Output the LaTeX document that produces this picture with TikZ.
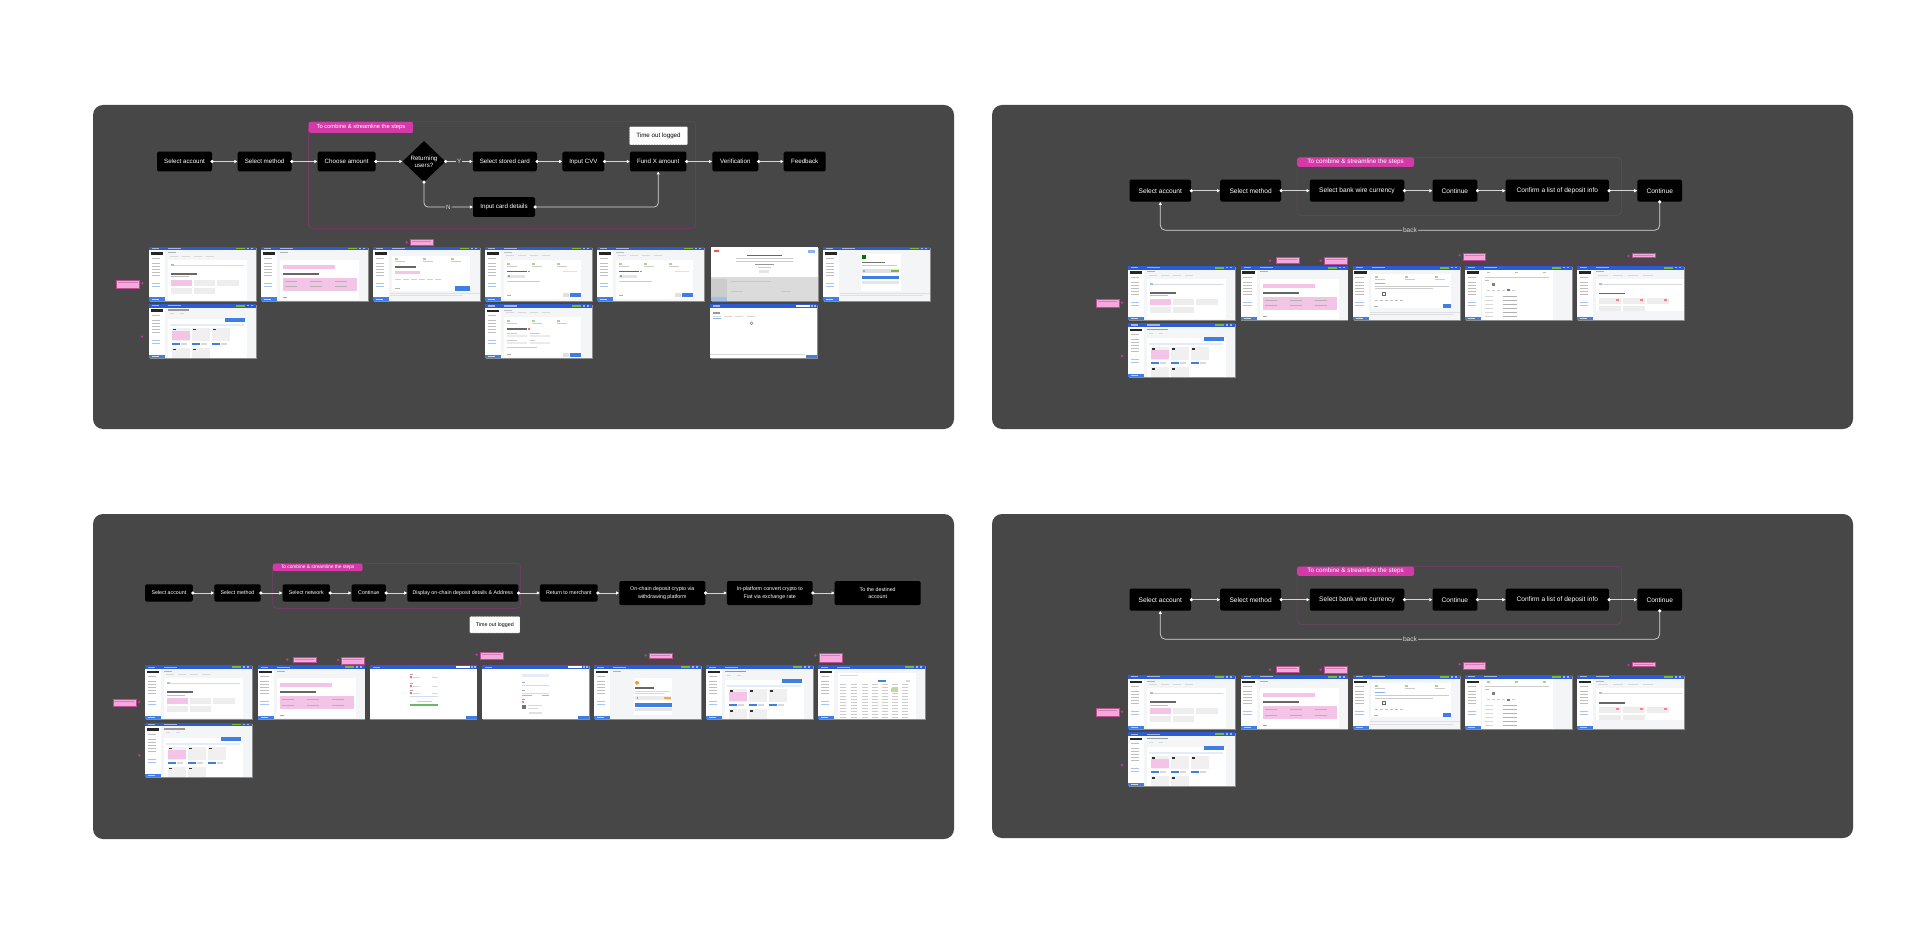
\documentclass[tikz,border=0pt]{standalone}
\usepackage{fontspec}
\setmainfont{Liberation Sans}
\usetikzlibrary{arrows.meta,shapes.geometric}
\definecolor{panelc}{HTML}{474747}
\definecolor{linec}{HTML}{D6D6D6}
\definecolor{groupc}{HTML}{8E3A7C}
\definecolor{tagc}{HTML}{D33AA8}
\definecolor{pinkhl}{HTML}{F3C4E6}
\definecolor{ptag}{HTML}{F7A6DE}
\definecolor{ptagb}{HTML}{B8508F}
\definecolor{pdot}{HTML}{D1309E}
\definecolor{hdr}{HTML}{2C5BD4}
\definecolor{chip}{HTML}{3F7FE4}
\definecolor{pagebg}{HTML}{F4F5F7}
\definecolor{greenp}{HTML}{78B83A}
\definecolor{shad}{HTML}{8C8C8C}
\definecolor{framec}{HTML}{5E3A55}
\tikzset{
 boxA/.style={fill=black, rounded corners=1.5pt, text=white, inner sep=0pt, align=center, minimum height=19.6pt, font=\fontsize{6.2}{7.2}\selectfont},
 boxB/.style={fill=black, rounded corners=1.5pt, text=white, inner sep=0pt, align=center, minimum height=22pt, font=\fontsize{6.6}{7.6}\selectfont},
 boxC/.style={fill=black, rounded corners=1.5pt, text=white, inner sep=0pt, align=center, minimum height=17.4pt, font=\fontsize{5.3}{7.4}\selectfont},
 dia/.style={diamond, fill=black, text=white, inner sep=0pt, minimum width=43pt, minimum height=41pt, align=center, font=\fontsize{6.2}{7.2}\selectfont},
 flow/.style={draw=linec, line width=0.7pt, shorten <=-1.6pt, {Circle[length=3.2pt,color=white]}-{Triangle[length=3pt,width=3pt,color=white]}},
 grp/.style={draw=groupc, line width=0.5pt, dash pattern=on 1.2pt off 0.8pt, rounded corners=4pt},
 tagA/.style={fill=tagc, text=white, rounded corners=2pt, inner sep=0pt, anchor=north west, font=\fontsize{5.8}{6.2}\selectfont},
 tagB/.style={tagA, font=\fontsize{6.3}{6.8}\selectfont},
 tagC/.style={tagA, font=\fontsize{4.8}{5.2}\selectfont},
 lblA/.style={fill=panelc, text=white!85!black, inner sep=1.2pt, font=\fontsize{6.2}{7}\selectfont},
 lblB/.style={lblA, font=\fontsize{6.6}{7.4}\selectfont},
 tout/.style={fill=white, draw=black!60, dash pattern=on 0.8pt off 0.8pt, line width=0.4pt, text=black, rounded corners=1pt, inner sep=0pt, font=\fontsize{6.2}{7}\selectfont},
 toutC/.style={tout, font=\fontsize{5.3}{7}\selectfont},
 panel/.style={fill=panelc, rounded corners=10pt}
}
% screenshot frame
\newcommand\shot[3]{\begin{scope}[shift={(#1,#2)}]\fill[shad] (0.7,0.9) rectangle (107.7,54.9);\fill[pagebg] (0,0) rectangle (107,54);#3\end{scope}}
\newcommand\hdrbar{\fill[hdr] (0,0) rectangle (107,3.6); \fill[white!55!hdr] (3,1.2) rectangle (10,2.4); \fill[white!55!hdr] (19,1.2) rectangle (32,2.4);}
\newcommand\hdrgreen{\fill[greenp] (87,0.9) rectangle (96,2.7); \fill[white!55!hdr] (98,1.1) rectangle (100,2.5); \fill[white!55!hdr] (102,1.1) rectangle (104,2.5);}
\newcommand\sidebar{\fill[white] (0,3.6) rectangle (16,54); \fill[black!85] (1.5,5.5) rectangle (14,8);
 \foreach \yy in {11,16,19,22,25,28}{\fill[black!25] (2.5,\yy) rectangle (11,\yy+0.9);}
 \foreach \yy in {36,39}{\fill[chip!45] (2.5,\yy) rectangle (11,\yy+0.9);}
 \fill[chip] (0,50.8) rectangle (16,54); \fill[white!70!chip] (3,52) rectangle (10,52.9);}
\newcommand\appui{\hdrbar\hdrgreen\sidebar}
\newcommand\plainui{\fill[white] (0,0) rectangle (107,54); \fill[hdr] (0,0) rectangle (107,3.6); \fill[white!55!hdr] (3,1.2) rectangle (10,2.4); \fill[white] (86,0.8) rectangle (100,2.8); \fill[white!60!hdr] (101,0.8) rectangle (103,2.8); \fill[white!60!hdr] (104,0.8) rectangle (106,2.8); \fill[chip] (96,50.5) rectangle (107,54);}
\newcommand\cAcc{%
 \fill[black!30] (19,5.5) rectangle (27,6.5);
 \foreach \xx in {21,33,45,57}{\fill[black!15] (\xx,9) rectangle (\xx+8,10);}
 \fill[white] (19,13) rectangle (98,53);
 \fill[chip!50] (22,17) rectangle (25,19); \fill[black!15] (25,18) rectangle (95,18.6);
 \fill[black!60] (22,26) rectangle (48,28);
 \fill[black!25] (22,29.5) rectangle (40,30.3);
 \fill[pinkhl] (22,33) rectangle (43,39);
 \fill[black!7] (45,33) rectangle (66,39);
 \fill[black!7] (68,33) rectangle (90,39);
 \fill[black!7] (22,41) rectangle (43,47);
 \fill[black!7] (45,41) rectangle (66,47);}
\newcommand\cMeth{%
 \fill[black!30] (19,5.5) rectangle (27,6.5);
 \fill[white] (19,13) rectangle (98,53);
 \fill[pinkhl] (22,18) rectangle (74,22);
 \fill[black!60] (22,26) rectangle (58,28);
 \fill[pinkhl] (22,31) rectangle (96,44);
 \foreach \xx in {24,49,74}{\fill[black!30] (\xx,34) rectangle (\xx+12,35); \fill[black!30] (\xx,39.5) rectangle (\xx+12,40.5);}
 \fill[black!35] (22,50) rectangle (26,51);}
\newcommand\cAmt{%
 \fill[white] (19,9) rectangle (97,44);
 \foreach \xx in {22,50,78}{\fill[greenp!60] (\xx,11) rectangle (\xx+3,13); \fill[black!20] (\xx,14) rectangle (\xx+10,14.8);}
 \fill[black!60] (22,19) rectangle (43,21);
 \fill[pinkhl] (22,24) rectangle (47,27);
 \foreach \xx in {22,30,38,46,54,62}{\fill[black!18] (\xx,32) rectangle (\xx+6,33.5);}
 \fill[black!30] (22,41) rectangle (27,42);
 \fill[chip] (82,39) rectangle (97,44);
 \fill[black!12] (17,46) rectangle (107,47); \fill[black!12] (17,48.5) rectangle (90,49.5);}
\newcommand\cCard{%
 \fill[black!25] (19,5.5) rectangle (27,6.5);
 \foreach \xx in {21,33,45,57}{\fill[black!15] (\xx,8) rectangle (\xx+8,9);}
 \fill[white] (19,13) rectangle (96,52);
 \foreach \xx in {22,47,72}{\fill[greenp!60] (\xx,16) rectangle (\xx+3,18); \fill[black!20] (\xx,19) rectangle (\xx+10,19.8);}
 \fill[black!60] (22,24) rectangle (42,25.5); \fill[red!60] (43,24) rectangle (45,25.5);
 \fill[black!12] (78,24) rectangle (92,25.5);
 \fill[black!10] (22,28) rectangle (40,31); \fill[chip!70] (23,28.5) rectangle (25,30.5);
 \fill[black!20] (22,34) rectangle (55,35);
 \fill[black!30] (22,48) rectangle (26,49);
 \fill[black!12] (78,46) rectangle (84,50);
 \fill[chip] (85,46) rectangle (96,50);}
\newcommand\cCardB{%
 \fill[black!25] (19,5.5) rectangle (27,6.5);
 \foreach \xx in {21,33,45,57}{\fill[black!15] (\xx,8) rectangle (\xx+8,9);}
 \fill[white] (19,13) rectangle (96,53);
 \foreach \xx in {22,47,72}{\fill[greenp!60] (\xx,16) rectangle (\xx+3,18); \fill[black!20] (\xx,19) rectangle (\xx+10,19.8);}
 \fill[black!60] (22,24) rectangle (42,25.5); \fill[red!60] (43,24) rectangle (45,25.5);
 \fill[black!20] (22,29) rectangle (32,30); \fill[black!20] (45,29) rectangle (55,30);
 \fill[black!8] (22,31) rectangle (42,33); \fill[black!8] (45,31) rectangle (65,33);
 \fill[black!20] (22,36) rectangle (32,37); \fill[black!20] (45,36) rectangle (50,37);
 \fill[black!8] (22,38) rectangle (42,40); \fill[black!8] (45,38) rectangle (65,40);
 \fill[black!20] (22,43) rectangle (52,44);
 \fill[black!30] (22,50) rectangle (26,51);
 \fill[black!12] (78,49) rectangle (84,53);
 \fill[chip] (85,49) rectangle (96,53);}
\newcommand\cGrid{%
 \fill[black!40] (19,5.5) rectangle (40,7);
 \fill[black!15] (21,9.5) rectangle (25,10.5); \fill[black!15] (31,9.5) rectangle (35,10.5);
 \fill[white] (19,15) rectangle (98,54);
 \fill[chip] (76,14) rectangle (96,18);
 \fill[chip!15] (21,20) rectangle (95,22);
 \foreach \xx in {23,43,63}{\fill[black!6] (\xx,24) rectangle (\xx+18,37); \fill[black!80] (\xx+1,25) rectangle (\xx+4,26.5); \fill[chip] (\xx,39) rectangle (\xx+8,41); \fill[black!15] (\xx+9,39) rectangle (\xx+15,41);}
 \fill[pinkhl] (23,27) rectangle (41,36);
 \foreach \xx in {23,43}{\fill[black!6] (\xx,44) rectangle (\xx+18,54); \fill[black!80] (\xx+1,45) rectangle (\xx+4,46.5);}}
\newcommand\cBank{%
 \fill[white] (18,8) rectangle (98,42);
 \foreach \xx in {22,52,82}{\fill[greenp!60] (\xx,10) rectangle (\xx+3,12); \fill[black!20] (\xx,13) rectangle (\xx+10,13.8);}
 \fill[chip!60] (22,17) rectangle (32,18);
 \fill[black!20] (22,20) rectangle (96,21); \fill[black!20] (22,22.5) rectangle (80,23.5);
 \draw[black!60, line width=0.6pt] (29,26) rectangle (32,29.5);
 \foreach \xx in {22,27,32,37,42,47}{\fill[black!25] (\xx,34) rectangle (\xx+3,35);}
 \fill[black!30] (21,40) rectangle (25,41);
 \fill[chip] (90,38) rectangle (98,42);
 \fill[black!12] (17,46) rectangle (107,47); \fill[black!12] (17,48.5) rectangle (100,49.5);}
\newcommand\cDetails{%
 \fill[white] (17,4) rectangle (88,54);
 \foreach \xx in {22,50,78}{\fill[greenp!60] (\xx,6) rectangle (\xx+3,7.5);}
 \fill[black!20] (20,11) rectangle (84,12);
 \fill[black!25] (20,14) rectangle (24,15);
 \fill[black!50] (27,17) rectangle (30,20);
 \foreach \xx in {22,27,32,37,47}{\fill[black!20] (\xx,24) rectangle (\xx+3,25);} \fill[chip] (42,23.5) rectangle (45,25.5);
 \foreach \yy in {30,34,38,42,46,50}{\fill[black!15] (20,\yy) rectangle (28,\yy+0.9); \fill[black!30] (38,\yy) rectangle (52,\yy+0.9);}}
\newcommand\cAccB{%
 \fill[black!30] (19,5.5) rectangle (27,6.5);
 \foreach \xx in {21,36,51,66}{\fill[black!15] (\xx,9) rectangle (\xx+10,10);}
 \fill[white] (19,13) rectangle (107,45);
 \fill[chip!50] (22,17) rectangle (25,19); \fill[black!15] (25,18) rectangle (105,18.6);
 \fill[black!60] (22,27) rectangle (48,28.5);
 \foreach \xx in {22,46,70}{\fill[black!7] (\xx,32) rectangle (\xx+22,38); \fill[red!50] (\xx+17,33) rectangle (\xx+20,35);}
 \foreach \xx in {22,46}{\fill[black!7] (\xx,40) rectangle (\xx+22,45);}}
\newcommand\cNet{%
 \foreach \yy in {9,18,25}{\fill[black!35] (40,\yy) rectangle (43,\yy+0.8); \fill[red!60] (40,\yy+2) rectangle (42,\yy+4); \fill[black!15] (43,\yy+2.5) rectangle (50,\yy+3.3); \fill[black!15] (62,\yy+2.5) rectangle (68,\yy+3.3);}
 \fill[chip!25] (40,31) rectangle (68,32);
 \fill[black!20] (47,36) rectangle (62,37);
 \fill[green!55!black!60] (40,39) rectangle (68,41);}
\newcommand\cAddr{%
 \fill[chip!15] (40,9) rectangle (67,12);
 \foreach \yy in {17,25}{\fill[black!35] (40,\yy) rectangle (43,\yy+0.8); \fill[black!15] (40,\yy+2.5) rectangle (67,\yy+3.3);}
 \fill[greenp!70] (40,30) rectangle (50,31); \fill[greenp!70] (60,30) rectangle (67,31);
 \fill[black!35] (40,34) rectangle (43,34.8); \fill[red!50] (40,36) rectangle (42,38);
 \fill[black!55] (40,39.5) rectangle (44,44); \fill[black!15] (46,40) rectangle (60,41); \fill[black!15] (46,42.5) rectangle (56,43.3);
 \fill[black!12] (47,47) rectangle (60,49);}
\newcommand\cCrypto{%
 \fill[black!30] (19,5.5) rectangle (27,6.5);
 \fill[white] (40,13) rectangle (78,50);
 \fill[orange!80] (43,17.5) circle (2);
 \fill[black!60] (41,22) rectangle (60,23.2);
 \fill[black!15] (41,25.5) rectangle (76,26.3); \fill[black!15] (41,27.5) rectangle (70,28.3);
 \fill[black!8] (41,31) rectangle (77,34.5); \fill[chip!70] (43,32) rectangle (44,33.5); \fill[orange!70] (70,31.5) rectangle (77,34);
 \fill[chip] (41,37.5) rectangle (78,41.5);
 \fill[black!10] (41,43) rectangle (78,46);}
\newcommand\cTable{%
 \fill[white] (20,8) rectangle (98,54);
 \fill[black!15] (22,10) rectangle (40,11);
 \fill[chip] (60,15) rectangle (68,17); \fill[black!15] (88,15) rectangle (92,17);
 \foreach \yy in {19,22,...,52}{\foreach \xx in {22,33,44,54,64,74,84}{\fill[black!20] (\xx,\yy) rectangle (\xx+6,\yy+0.9);}}
 \fill[greenp!50] (73,23) rectangle (80,27);}
\newcommand\cStripe{%
 \fill[white] (0,0) rectangle (107,30); \fill[black!14] (0,30) rectangle (107,54);
 \fill[red!70] (3,3) rectangle (8,5); \fill[chip!60] (97,3) rectangle (104,6);
 \fill[black!60] (36,8) rectangle (71,9.2);
 \fill[black!20] (25,11.5) rectangle (82,12.3); \fill[black!20] (25,14) rectangle (82,14.8);
 \fill[black!40] (44,17) rectangle (63,18); \fill[black!20] (47,20) rectangle (60,21);
 \fill[black!10] (48,23) rectangle (58,26);
 \fill[black!22] (20,34) rectangle (60,35); \fill[black!22] (20,44) rectangle (32,45); \fill[black!22] (70,44) rectangle (80,45);
 \fill[black!20] (0,32) rectangle (16,54); \fill[chip!50] (0,50.8) rectangle (16,54);}
\newcommand\cLoad{%
 \fill[black!40] (3,8) rectangle (10,9.5);
 \foreach \xx in {3,14,25,37}{\fill[black!15] (\xx,12) rectangle (\xx+8,13);}
 \fill[chip!60] (3,14) rectangle (11,14.8);
 \draw[black!45, line width=0.5pt] (41.5,19) circle (1.5);
 \fill[black!15] (0,49.5) rectangle (95,50.3);}
\newcommand\cDone{%
 \fill[white] (38,7) rectangle (78,44);
 \fill[green!45!black] (39,8) rectangle (43,12);
 \fill[black!55] (39,15) rectangle (62,16.2);
 \fill[black!20] (39,18) rectangle (74,19);
 \fill[black!12] (39,22) rectangle (76,26); \fill[chip!60] (40,23) rectangle (42,25); \fill[greenp] (68,23) rectangle (76,25);
 \fill[chip] (39,29) rectangle (76,32);
 \fill[black!10] (39,34) rectangle (76,37);
 \fill[black!12] (17,46) rectangle (107,47); \fill[black!12] (17,48.5) rectangle (100,49.5);}
% pink annotation: dot x, dot y, tag x1 y1 x2 y2
\newcommand\ptag[6]{\fill[pdot] (#1,#2) circle (1.3); \filldraw[fill=ptag, draw=ptagb, line width=0.3pt] (#3,#4) rectangle (#5,#6); \fill[ptagb!70] (#3+1.5,#4+2) rectangle (#5-2,#4+2.6);}
\newcommand\pdotonly[2]{\fill[pdot] (#1,#2) circle (1.3);}
% bank wire panel (used twice)
\newcommand\bankpanel[2]{%
\begin{scope}[shift={(0,#1)}]
\fill[panel] (992,105) rectangle (1853,429);
\draw[grp] (1297,157.3) rectangle (1621.6,215.3);
\node[tagB, minimum width=116.8pt, minimum height=9.4pt] (#2tag) at (1297,157.3) {To combine \& streamline the steps};
\node[boxB, minimum width=61.6pt] (#2a) at (1160.3,190.7) {Select account};
\node[boxB, minimum width=60.8pt] (#2b) at (1250.6,190.7) {Select method};
\node[boxB, minimum width=94.5pt] (#2c) at (1357,190.7) {Select bank wire currency};
\node[boxB, minimum width=44.8pt] (#2d) at (1454.9,190.7) {Continue};
\node[boxB, minimum width=103.3pt] (#2e) at (1557.3,190.7) {Confirm a list of deposit info};
\node[boxB, minimum width=44.7pt] (#2f) at (1659.7,190.7) {Continue};
\draw[flow] (#2a.east) -- (#2b.west);
\draw[flow] (#2b.east) -- (#2c.west);
\draw[flow] (#2c.east) -- (#2d.west);
\draw[flow] (#2d.east) -- (#2e.west);
\draw[flow] (#2e.east) -- (#2f.west);
\coordinate (#2bk) at (1400,230.3);
\draw[flow, rounded corners=5pt] (#2f.south) -- (#2f.south |- #2bk) -- node[lblB]{back} (#2a.south |- #2bk) -- (#2a.south);
\draw[framec, line width=0.5pt] (1352.3,262.7) -- (1572.2,262.7);
\draw[framec, line width=0.5pt] (1576.6,262.7) -- (1685,262.7);
\shot{1128.2}{266}{\appui\cAcc}
\shot{1240.7}{266}{\appui\cMeth}
\shot{1352.8}{266}{\appui\cBank}
\shot{1465}{266}{\appui\cDetails}
\shot{1577.1}{266}{\appui\cAccB}
\shot{1128.2}{323.3}{\appui\cGrid}
\ptag{1122}{302.7}{1096}{299.3}{1119}{306.7}
\pdotonly{1122}{356}
\ptag{1270}{260.7}{1276}{257.3}{1299}{263}
\ptag{1320.7}{260.7}{1324.5}{257.3}{1347.1}{264.3}
\ptag{1459.6}{255.3}{1463}{253}{1485.6}{260.3}
\ptag{1628.3}{256}{1632.2}{253.3}{1655.1}{257.5}
\end{scope}}

\begin{document}
\begin{tikzpicture}[x=1pt,y=-1pt]
\useasboundingbox (0,0) rectangle (1920,933);
\fill[white] (0,0) rectangle (1920,933);

% ================= Panel 1 =================
\fill[panel] (93,105) rectangle (954,429);
\draw[grp] (308.5,121.7) rectangle (695.7,228.3);
\node[tagA, minimum width=104.5pt, minimum height=11pt] (t1) at (308.5,121.7) {To combine \& streamline the steps};
\node[boxA, minimum width=55pt] (a1) at (184.5,161.5) {Select account};
\node[boxA, minimum width=54pt] (a2) at (264.6,161.5) {Select method};
\node[boxA, minimum width=58pt] (a3) at (346.6,161.5) {Choose amount};
\node[dia] (a4) at (424,161.5) {Returning\\users?};
\node[boxA, minimum width=64pt] (a5) at (504.8,161.5) {Select stored card};
\node[boxA, minimum width=42pt] (a6) at (583.4,161.5) {Input CVV};
\node[boxA, minimum width=56.5pt] (a7) at (658.2,161.5) {Fund X amount};
\node[boxA, minimum width=46pt] (a8) at (735.3,161.5) {Verification};
\node[boxA, minimum width=42pt] (a9) at (804.7,161.5) {Feedback};
\node[boxA, minimum width=62pt] (a10) at (504,207) {Input card details};
\node[tout, minimum width=58.4pt, minimum height=18.3pt] (a11) at (658.5,135.8) {Time out logged};
\draw[flow] (a1.east) -- (a2.west);
\draw[flow] (a2.east) -- (a3.west);
\draw[flow] (a3.east) -- (a4.west);
\draw[flow] (a4.east) -- node[lblA]{Y} (a5.west);
\draw[flow] (a5.east) -- (a6.west);
\draw[flow] (a6.east) -- (a7.west);
\draw[flow] (a7.east) -- (a8.west);
\draw[flow] (a8.east) -- (a9.west);
\draw[flow, rounded corners=4pt] (a4.south) |- node[lblA, pos=0.75]{N} (a10.west);
\draw[flow, rounded corners=4pt] (a10.east) -| (a7.south);
% screenshots panel 1
\shot{149}{246.7}{\appui\cAcc}
\shot{261}{246.7}{\appui\cMeth}
\shot{373}{246.7}{\appui\cAmt}
\shot{485.3}{246.7}{\appui\cCard}
\shot{597.3}{246.7}{\appui\cCard}
\shot{711}{246.7}{\cStripe}
\shot{823.3}{246.7}{\appui\cDone}
\shot{149}{304}{\appui\cGrid}
\shot{485.3}{304.3}{\appui\cCardB}
\shot{710}{304.3}{\plainui\cLoad}
\ptag{142.3}{283.3}{116.3}{280.4}{139.5}{287.8}
\pdotonly{142}{336.7}
\ptag{406.7}{242.3}{410}{239.3}{432.7}{245}

% ================= Panels 2 and 4 =================
\bankpanel{0}{p}
\bankpanel{409}{q}

% ================= Panel 3 =================
\fill[panel] (93,514) rectangle (954,839);
\draw[grp] (272.7,563.3) rectangle (520.7,608.3);
\node[tagC, minimum width=89.6pt, minimum height=7.7pt] (t3) at (272.7,563.3) {To combine \& streamline the steps};
\node[boxC, minimum width=47.7pt] (c1) at (168.9,593) {Select account};
\node[boxC, minimum width=46.4pt] (c2) at (237.5,593) {Select method};
\node[boxC, minimum width=47.3pt] (c3) at (306.3,593) {Select network};
\node[boxC, minimum width=34.3pt] (c4) at (368.8,593) {Continue};
\node[boxC, minimum width=111pt] (c5) at (462.8,593) {Display on-chain deposit details \& Address};
\node[boxC, minimum width=57.7pt] (c6) at (568.8,593) {Return to merchant};
\node[boxC, minimum width=86pt, minimum height=24pt] (c7) at (662.3,593) {On-chain deposit crypto via\\withdrawing platform};
\node[boxC, minimum width=85.7pt, minimum height=24pt] (c8) at (769.8,593) {In-platform convert crypto to\\Fiat via exchange rate};
\node[boxC, minimum width=86pt, minimum height=24pt] (c9) at (877.7,593) {To the destined\\account};
\node[toutC, minimum width=50.3pt, minimum height=16.7pt] (c10) at (494.8,624.7) {Time out logged};
\draw[flow] (c1.east) -- (c2.west);
\draw[flow] (c2.east) -- (c3.west);
\draw[flow] (c3.east) -- (c4.west);
\draw[flow] (c4.east) -- (c5.west);
\draw[flow] (c5.east) -- (c6.west);
\draw[flow] (c6.east) -- (c7.west);
\draw[flow] (c7.east) -- (c8.west);
\draw[flow] (c8.east) -- (c9.west);
% screenshots panel 3
\draw[framec, line width=0.5pt] (369.2,662.3) -- (589.5,662.3);
\draw[framec, line width=0.5pt] (593.5,662.3) -- (701.5,662.3);
\draw[framec, line width=0.5pt] (705.5,662.8) -- (813.5,662.8);
\draw[framec, line width=0.5pt] (817.5,662.8) -- (925.5,662.8);
\shot{145.3}{665.3}{\appui\cAcc}
\shot{257.7}{665.3}{\appui\cMeth}
\shot{369.7}{665.3}{\plainui\cNet}
\shot{482}{665.3}{\plainui\cAddr}
\shot{594}{665.3}{\appui\cCrypto}
\shot{706}{665.3}{\appui\cGrid}
\shot{818}{665.3}{\appui\cTable}
\shot{145.3}{722.7}{\appui\cGrid}
\ptag{139.3}{702}{112.7}{699.3}{136}{706}
\pdotonly{139.3}{755.3}
\ptag{287.3}{659.7}{293}{656.7}{315.7}{662.3}
\ptag{338}{660}{341.3}{656.7}{364.3}{663.7}
\ptag{476.7}{654.7}{480}{652.3}{502.7}{659.3}
\ptag{645.7}{655.3}{649}{653}{672.3}{658.3}
\ptag{815.3}{655.3}{819}{653}{841.7}{662}
\end{tikzpicture}
\end{document}
